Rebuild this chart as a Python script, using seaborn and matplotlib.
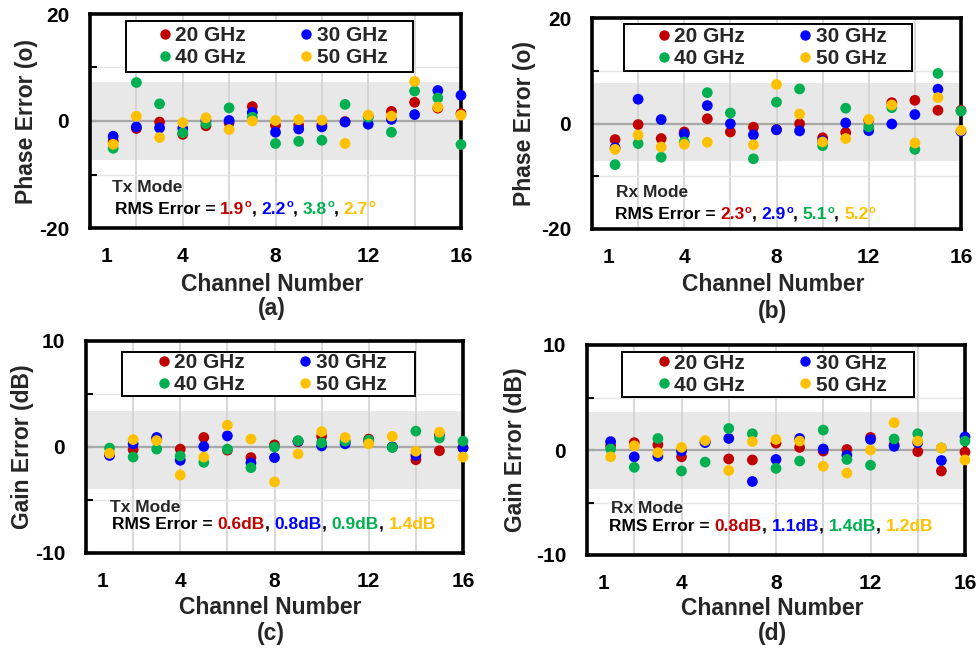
import numpy as np
import pandas as pd
import matplotlib
matplotlib.use("Agg")
import matplotlib.pyplot as plt
import seaborn as sns
from matplotlib.lines import Line2D
from matplotlib.patches import Rectangle

# ---------------- data ----------------
channels = list(range(1, 17))
freqs = ["20 GHz", "30 GHz", "40 GHz", "50 GHz"]
colors = ["#C00000", "#0000FF", "#00B050", "#FFC000"]

# (a) phase error, Tx mode (deg)
tx_phase_20 = [-3.7, -1.4, -0.2, -2.5, -0.9, -0.35, 2.7, -0.8, -0.8, -0.7, -0.1, 0.9, 1.8, 3.5, 2.4, 1.4]
tx_phase_30 = [-2.85, -1.1, -1.3, -1.4, 0.1, 0.1, 1.6, -2.1, -1.5, -1.1, -0.2, -0.6, 0.3, 1.2, 5.7, 4.8]
tx_phase_40 = [-5.1, 7.2, 3.2, -2.2, -0.5, 2.45, 0.7, -4.2, -3.8, -3.6, 3.1, 0.7, -2.1, 5.6, 4.3, -4.4]
tx_phase_50 = [-4.35, 0.9, -3.1, -0.3, 0.6, -1.6, 0.0, 0.1, 0.25, 0.15, -4.2, 1.1, 0.9, 7.4, 2.6, 1.1]

# (b) phase error, Rx mode (deg)
rx_phase_20 = [-3.05, -0.2, -2.85, -1.6, 0.9, -1.6, -0.7, -1.15, -0.05, -2.7, -1.7, 0.6, 3.95, 4.4, 2.5, 2.5]
rx_phase_30 = [-4.6, 4.6, 0.75, -2.0, 3.4, -0.05, -2.15, -1.2, -1.4, -3.3, 0.1, -1.35, -0.1, 1.7, 6.5, -1.5]
rx_phase_40 = [-7.8, -3.8, -6.4, -3.5, 5.85, 2.0, -6.7, 4.05, 6.55, -4.2, 2.9, -0.65, 3.0, -4.9, 9.5, 2.35]
rx_phase_50 = [-4.9, -2.2, -4.45, -3.95, -3.55, np.nan, -4.05, 7.4, 1.8, -3.5, -2.85, 0.8, 3.5, -3.7, 4.9, -1.3]

# (c) gain error, Tx mode (dB)
tx_gain_20 = [-0.7, -0.25, 0.75, -0.2, 0.9, -0.3, -1.0, 0.2, 0.5, 1.0, 0.5, 0.75, 0.0, -1.2, -0.35, -0.05]
tx_gain_30 = [-0.8, 0.3, 0.9, -1.25, 0.05, 1.05, -1.5, -1.0, 0.55, 0.1, 0.3, 0.5, 0.0, -0.8, 1.15, -0.1]
tx_gain_40 = [-0.1, -0.95, -0.2, -0.85, -1.45, -0.2, -1.95, 0.0, 0.6, 0.4, 0.55, 0.65, -0.05, 1.5, 0.85, 0.55]
tx_gain_50 = [-0.6, 0.7, 0.6, -2.65, -0.95, 2.05, 0.75, -3.3, -0.65, 1.45, 0.9, 0.3, 1.0, -0.4, 1.4, -0.95]

# (d) gain error, Rx mode (dB)
rx_gain_20 = [0.4, 0.7, 0.5, -0.65, 0.8, -0.85, -0.95, 0.65, 0.25, -0.1, 0.05, 1.2, 0.5, -0.15, -2.0, -0.2]
rx_gain_30 = [0.8, -0.65, -0.6, -0.1, 0.7, 1.1, -3.0, -0.9, 1.1, 0.1, -0.5, 1.0, 0.35, 0.7, -1.0, 1.25]
rx_gain_40 = [0.1, -1.65, 1.1, -2.0, -1.15, 2.05, 1.55, -1.75, -1.05, 1.9, -0.9, -1.45, 1.05, 1.55, 0.2, 0.85]
rx_gain_50 = [-0.65, 0.4, -0.25, 0.25, 0.9, -1.95, 0.8, 1.0, 0.85, -1.55, -2.2, 0.0, 2.6, 0.85, 0.2, -0.95]

xtick_pos = [0.7, 4, 8, 12, 16]
xtick_labels = ["1", "4", "8", "12", "16"]

rms_a = ["1.9", "2.2", "3.8", "2.7"]
rms_b = ["2.3", "2.9", "5.1", "5.2"]
rms_c = ["0.6dB", "0.8dB", "0.9dB", "1.4dB"]
rms_d = ["0.8dB", "1.1dB", "1.4dB", "1.2dB"]

# ---------------- style ----------------
sns.set_theme(style="white")
plt.rcParams["font.family"] = ["Liberation Sans", "DejaVu Sans"]
plt.rcParams["font.weight"] = "bold"

W, H = 980, 656
palette = dict(zip(freqs, colors))


def px_rect(l, t, r, b):
    return [l / W, 1 - b / H, (r - l) / W, (b - t) / H]


def long_frame(series):
    parts = []
    for f, vals in zip(freqs, series):
        parts.append(pd.DataFrame({"channel": channels, "freq": f, "value": vals}))
    return pd.concat(parts, ignore_index=True)


def rms_text(ax, x, y, values, sup):
    kw = dict(fontsize=12.5, fontweight="bold")
    t = ax.text(x, y, "RMS Error = ", transform=ax.transAxes, color="black",
                va="baseline", ha="left", **kw)
    for i, (v, c) in enumerate(zip(values, colors)):
        main = ax.annotate(v, xy=(1, 0), xycoords=t, va="bottom", ha="left",
                           color=c, **kw)
        t = main
        if sup:
            t = ax.annotate("o", xy=(1, 0), xycoords=main, xytext=(0.3, 5.5),
                            textcoords="offset points", va="bottom", ha="left",
                            color=c, fontsize=8, fontweight="bold")
        if i < 3:
            t = ax.annotate(", ", xy=(1, 0), xycoords=(t, main), va="bottom",
                            ha="left", color="black", **kw)


fig = plt.figure(figsize=(W / 100, H / 100), dpi=100)


def panel(rect, series, ylim, ymajor, yminor, band, ylabel, ylabel_x, mode,
          mode_xy, rms, rms_xy, sup, leg_center, box, xlab_y, tag, tag_y):
    ax = fig.add_axes(px_rect(*rect))
    ax.axhspan(band[0], band[1], color="#E8E8E8", lw=0, zorder=0)
    for xv in range(2, 16, 2):
        ax.axvline(xv, color="#D2D2D2", lw=1.2, zorder=0.5)
    for yv in yminor:
        ax.axhline(yv, color="#E4E4E4", lw=1.0, zorder=0.5)
    ax.axhline(0, color="#A8A8A8", lw=1.6, zorder=0.6)

    df = long_frame(series)
    sns.scatterplot(data=df, x="channel", y="value", hue="freq", hue_order=freqs,
                    palette=palette, s=60, linewidth=0, legend=False, ax=ax,
                    zorder=3, clip_on=False)

    ax.set_xlim(0, 16)
    ax.set_ylim(*ylim)
    ax.set_xticks(xtick_pos)
    ax.set_xticklabels(xtick_labels)
    ax.set_yticks(ymajor)
    ax.set_yticklabels([str(v) for v in ymajor])
    ax.set_yticks(yminor, minor=True)
    ax.tick_params(axis="x", length=0, pad=14, labelsize=15, colors="black")
    ax.tick_params(axis="y", which="both", direction="in", length=5, width=1.5,
                   pad=15, labelsize=15, colors="black", left=True, right=False)
    ax.set_xlabel("")
    ax.set_ylabel("")
    for sp in ax.spines.values():
        sp.set_linewidth(2.6)
        sp.set_color("black")
        sp.set_visible(True)

    ax.text(ylabel_x, 0.5, ylabel, transform=ax.transAxes, rotation=90,
            ha="center", va="center", fontsize=16.5, fontweight="bold")
    ax.text(0.49, xlab_y, "Channel Number", transform=ax.transAxes,
            ha="center", va="center", fontsize=16.5, fontweight="bold")
    ax.text(0.49, tag_y, tag, transform=ax.transAxes,
            ha="center", va="center", fontsize=16.5, fontweight="bold")

    ax.text(mode_xy[0], mode_xy[1], mode, transform=ax.transAxes,
            ha="left", va="baseline", fontsize=12.5, fontweight="bold")
    rms_text(ax, rms_xy[0], rms_xy[1], rms, sup)

    bx0, by0, bx1, by1 = box
    ax.add_patch(Rectangle((bx0, by0), bx1 - bx0, by1 - by0, transform=ax.transAxes,
                           fc="white", ec="black", lw=1.4, zorder=6, clip_on=False))
    order = [0, 2, 1, 3]
    handles = [Line2D([], [], ls="none", marker="o", ms=7.5, mfc=colors[i], mec="none")
               for i in order]
    labels = [freqs[i] for i in order]
    leg = ax.legend(handles, labels, ncol=2, loc="center", bbox_to_anchor=leg_center,
                    frameon=False, prop={"size": 15, "weight": "bold"},
                    handlelength=0.6, handletextpad=0.2, columnspacing=2.6,
                    labelspacing=0.15, borderpad=0, borderaxespad=0)
    leg.set_zorder(7)
    return ax


panel((90, 14, 461, 228), [tx_phase_20, tx_phase_30, tx_phase_40, tx_phase_50],
      (-20, 20), [-20, 0, 20], [-10, 10], (-7.3, 7.3), "Phase Error (o)", -0.172,
      "Tx Mode", (0.058, 0.167), rms_a, (0.067, 0.065), True,
      (0.493, 0.848), (0.097, 0.730, 0.871, 0.969), -0.262, "(a)", -0.378)

panel((592, 18, 961, 229), [rx_phase_20, rx_phase_30, rx_phase_40, rx_phase_50],
      (-20, 20), [-20, 0, 20], [-10, 10], (-7.2, 7.6), "Phase Error (o)", -0.182,
      "Rx Mode", (0.065, 0.153), rms_b, (0.062, 0.046), True,
      (0.488, 0.860), (0.0875, 0.749, 0.866, 0.970), -0.265, "(b)", -0.392)

panel((86, 341, 463, 553), [tx_gain_20, tx_gain_30, tx_gain_40, tx_gain_50],
      (-10, 10), [-10, 0, 10], [-5, 5], (-3.95, 3.4), "Gain Error (dB)", -0.168,
      "Tx Mode", (0.064, 0.195), rms_c, (0.069, 0.113), False,
      (0.493, 0.845), (0.0947, 0.742, 0.873, 0.950), -0.255, "(c)", -0.378)

panel((587, 345, 965, 555), [rx_gain_20, rx_gain_30, rx_gain_40, rx_gain_50],
      (-10, 10), [-10, 0, 10], [-5, 5], (-3.7, 3.65), "Gain Error (dB)", -0.188,
      "Rx Mode", (0.063, 0.200), rms_d, (0.058, 0.114), False,
      (0.489, 0.861), (0.0934, 0.754, 0.865, 0.968), -0.253, "(d)", -0.376)

fig.savefig("out.png", dpi=100, facecolor="white")
